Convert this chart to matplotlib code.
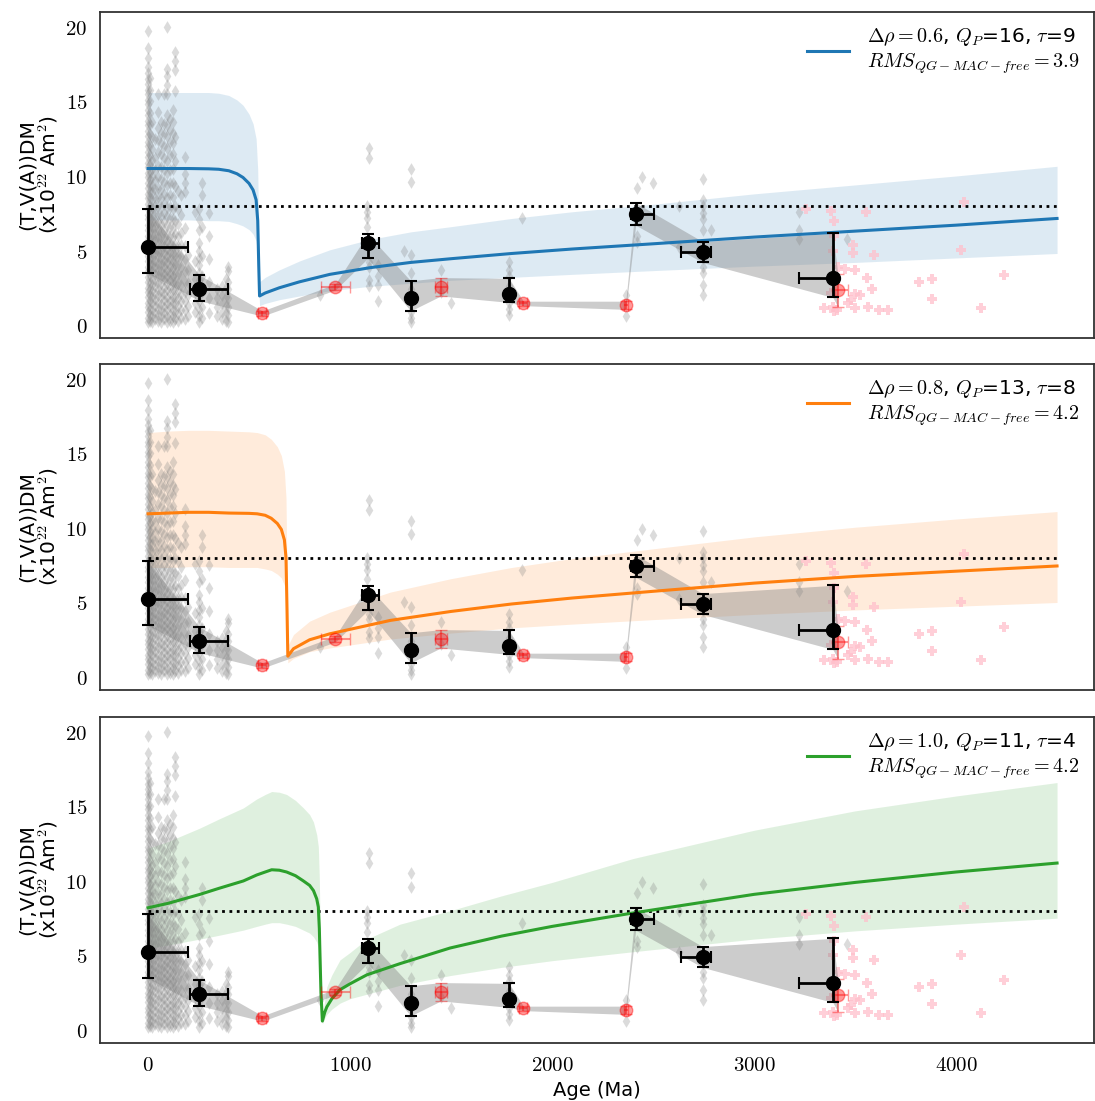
import numpy as np
import matplotlib.pyplot as plt
from matplotlib.ticker import FuncFormatter

plt.rcParams['mathtext.fontset'] = 'cm'
plt.rcParams['font.family'] = ['DejaVu Sans']

# ---- individual intensity estimates (grey diamonds), column by column ----
grey_cols = [
    (0, [0.2, 0.5, 0.9, 1.2, 1.5, 1.9, 2.2, 2.5, 2.9, 3.2, 3.6, 3.9, 4.3, 4.6, 5.0, 5.3, 5.7, 6.0,
         6.4, 6.7, 7.1, 7.4, 7.8, 8.1, 8.5, 8.8, 9.2, 9.5, 9.9, 10.2, 10.6, 10.9, 11.3, 11.6, 12.0,
         12.3, 12.7, 13.0, 13.4, 13.7, 14.1, 14.4, 14.8, 15.1, 15.5, 15.8, 16.2, 16.5, 16.9, 17.3,
         17.9, 18.6, 19.7]),
    (8, [0.3, 0.7, 1.1, 1.6, 2.0, 2.4, 2.8, 3.3, 3.7, 4.1, 4.5, 5.0, 5.4, 5.8, 6.3, 6.7, 7.1, 7.6,
         8.0, 8.5, 8.9, 9.4, 9.8, 10.3, 10.8, 11.4, 12.1, 12.8, 13.5, 14.2, 15.0, 15.8, 16.6]),
    (20, [0.2, 0.6, 1.0, 1.5, 1.9, 2.3, 2.7, 3.1, 3.6, 4.0, 4.4, 4.8, 5.3, 5.7, 6.1, 6.6, 7.0, 7.5,
          7.9, 8.4, 8.9, 9.3, 9.9, 10.5, 11.1, 11.8, 12.6, 13.6]),
    (35, [0.4, 0.8, 1.3, 1.7, 2.1, 2.6, 3.0, 3.4, 3.9, 4.3, 4.8, 5.2, 5.7, 6.1, 6.6, 7.0, 7.5, 8.0,
          8.5, 9.1, 9.7, 10.4, 11.2, 12.5]),
    (50, [0.3, 0.7, 1.1, 1.5, 2.0, 2.4, 2.8, 3.3, 3.7, 4.1, 4.6, 5.0, 5.5, 5.9, 6.4, 6.9, 7.4, 8.0,
          8.6, 9.2, 9.9, 10.7, 11.6, 12.4, 13.2, 14.3, 15.5]),
    (65, [0.2, 0.6, 1.0, 1.4, 1.9, 2.3, 2.8, 3.2, 3.6, 4.1, 4.5, 5.0, 5.4, 5.9, 6.3, 6.8, 7.3, 7.9,
          8.5, 9.1, 9.8, 10.6, 11.5, 12.2, 12.9, 13.6]),
    (80, [0.4, 0.8, 1.2, 1.7, 2.1, 2.5, 3.0, 3.4, 3.9, 4.3, 4.8, 5.3, 5.8, 6.3, 6.9, 7.5, 8.1, 8.8,
          9.6, 10.4, 11.2, 12.0, 12.8, 13.5, 15.5]),
    (95, [0.2, 0.6, 1.1, 1.5, 1.9, 2.4, 2.8, 3.3, 3.7, 4.2, 4.6, 5.1, 5.6, 6.1, 6.7, 7.3, 7.9, 8.6,
          9.4, 10.2, 11.0, 11.9, 12.7, 13.4, 14.1, 15.5, 16.1, 16.7, 17.2, 20.0]),
    (110, [0.3, 0.7, 1.2, 1.6, 2.1, 2.5, 3.0, 3.4, 3.9, 4.4, 4.9, 5.4, 6.0, 6.6, 7.2, 7.9, 8.7, 9.5,
           10.4, 11.4, 12.3, 13.1, 13.8]),
    (125, [0.2, 0.6, 1.0, 1.5, 1.9, 2.4, 2.9, 3.3, 3.8, 4.3, 4.8, 5.3, 5.9, 6.5, 7.1, 7.8, 8.6, 9.5,
           10.5, 11.5, 12.2, 12.9, 13.6, 14.4]),
    (135, [0.4, 0.9, 1.4, 1.9, 2.4, 2.9, 3.5, 4.1, 4.7, 5.4, 6.1, 7.0, 8.0, 9.3, 11.0, 12.6, 15.7,
           17.1, 17.7, 18.3]),
    (150, [0.3, 0.8, 1.3, 1.8, 2.3, 2.8, 3.4, 4.0, 4.6, 5.3, 6.0, 6.8, 7.8, 9.0]),
    (165, [0.5, 1.0, 1.6, 2.1, 2.7, 3.3, 3.9, 4.6, 5.4, 6.2, 7.4, 8.7]),
    (183, [0.4, 1.0, 1.6, 2.2, 2.9, 3.6, 4.4, 5.3, 6.5, 8.9, 9.5, 10.1, 11.3]),
    (200, [0.6, 1.3, 2.0, 2.8, 3.7, 4.7]),
    (230, [0.9, 1.5, 2.2, 3.1, 4.3, 7.6]),
    (254, [0.2, 0.6, 1.1, 1.6, 2.0, 2.5, 3.0, 3.5, 4.0, 4.5, 5.0, 5.5, 6.4, 7.1, 7.8]),
    (268, [0.5, 1.2, 2.2, 3.3, 4.6, 6.6, 8.7, 9.5]),
    (300, [0.8, 1.8, 2.9, 4.4, 6.0, 7.5]),
    (340, [0.6, 1.2, 1.8, 2.4]),
    (365, [0.4, 0.9, 1.5, 2.0, 2.6]),
    (385, [0.3, 0.8, 1.3, 1.9, 2.5, 3.1]),
    (398, [0.2, 0.7, 1.2, 1.8, 2.4, 2.9, 3.6, 3.9]),
    (851, [2.0]),
    (1083, [6.6, 7.2, 7.6, 8.0]),
    (1095, [2.6, 3.0, 3.9, 4.2, 11.2, 11.9]),
    (1140, [1.6, 2.7, 3.3, 4.0]),
    (1267, [5.0]),
    (1300, [0.2, 0.5, 0.9, 1.5, 2.4, 3.5, 4.7, 9.6, 10.5]),
    (1449, [2.2, 3.7]),
    (1498, [1.45]),
    (1787, [0.7, 1.1, 1.5, 2.6, 3.3, 3.7, 4.2]),
    (1850, [7.2]),
    (2365, [0.6, 2.0]),
    (2420, [5.6, 6.0, 9.2]),
    (2447, [9.9]),
    (2500, [9.5]),
    (2630, [5.25, 8.0]),
    (2745, [2.0, 2.7, 3.5, 3.9, 4.5, 6.4, 7.1, 7.5, 8.0, 8.4, 9.8]),
    (2789, [6.4]),
    (3222, [5.8, 6.4, 7.6]),
    (3460, [5.8]),
]

# ---- pink estimates (oldest interval) ----
pink_age = [3256, 3381, 3552, 3398, 4038, 3490, 3490, 3594, 4024, 3398, 3390, 3449, 3502, 3418,
            3560, 3582, 3816, 3883, 4235, 3883, 3502, 3524, 3465, 3482, 3348, 3390, 3412, 3502,
            3565, 3621, 3661, 4123, 3381, 3395]
pink_val = [7.76, 7.67, 7.6, 6.98, 8.28, 5.37, 4.85, 4.7, 5.03, 6.0, 5.0, 3.74, 3.69, 3.87,
            3.13, 2.44, 2.86, 3.06, 3.36, 1.72, 2.08, 2.01, 1.45, 1.68, 1.12, 1.23, 1.0, 1.17,
            1.19, 1.0, 1.0, 1.17, 2.12, 0.95]

# ---- binned means (black) ----
blk_age = [0, 254, 1087, 1300, 1787, 2414, 2745, 3390]
blk_val = [5.25, 2.42, 5.48, 1.83, 2.06, 7.45, 4.88, 3.18]
blk_ylo = [3.47, 1.63, 4.47, 0.95, 1.52, 6.7, 4.2, 1.85]
blk_yhi = [7.76, 3.36, 6.1, 2.97, 3.13, 8.2, 5.6, 6.15]
blk_xlo = [0, 208, 1060, 1290, 1780, 2390, 2640, 3222]
blk_xhi = [196, 398, 1142, 1310, 1795, 2506, 2789, 3395]

# ---- binned means (red) ----
red_age = [566, 927, 1449, 1858, 2365, 3415]
red_val = [0.78, 2.55, 2.57, 1.45, 1.34, 2.35]
red_ylo = [0.6, 2.35, 1.95, 1.3, 1.05, 1.23]
red_yhi = [0.95, 2.75, 3.18, 1.6, 1.6, 3.4]
red_xlo = [546, 854, 1420, 1838, 2355, 3395]
red_xhi = [586, 1000, 1480, 1878, 2375, 3465]

# ---- model curves ----
m1_age = [0, 100, 200, 300, 350, 400, 440, 470, 500, 520, 535, 543, 548, 552, 580, 650, 750,
          900, 1100, 1300, 1500, 1800, 2100, 2500, 3000, 3500, 4000, 4500]
m1_val = [10.5, 10.5, 10.5, 10.48, 10.45, 10.35, 10.15, 9.9, 9.5, 9.06, 8.4, 7.0, 4.0, 1.95,
          2.15, 2.5, 2.9, 3.4, 3.85, 4.2, 4.45, 4.8, 5.1, 5.45, 5.9, 6.3, 6.7, 7.15]
m1_lo = [7.05, 7.05, 7.05, 7.0, 7.0, 6.95, 6.8, 6.65, 6.4, 6.1, 5.65, 4.7, 2.7, 1.3,
         1.45, 1.7, 1.95, 2.3, 2.6, 2.8, 3.0, 3.2, 3.4, 3.65, 3.95, 4.2, 4.5, 4.8]
m1_hi = [15.6, 15.6, 15.6, 15.6, 15.55, 15.4, 15.1, 14.75, 14.15, 13.5, 12.5, 10.4, 6.0, 2.9,
         3.2, 3.7, 4.3, 5.05, 5.75, 6.25, 6.6, 7.15, 7.6, 8.1, 8.8, 9.4, 10.0, 10.65]

m2_age = [0, 100, 200, 300, 400, 500, 540, 580, 610, 640, 660, 675, 683, 688, 692, 720, 800,
          900, 1000, 1200, 1500, 1800, 2100, 2500, 3000, 3500, 4000, 4500]
m2_val = [10.95, 11.0, 11.05, 11.05, 11.0, 10.98, 10.95, 10.85, 10.65, 10.3, 9.9, 9.2, 8.0, 4.5,
          1.4, 1.9, 2.5, 2.9, 3.2, 3.8, 4.4, 4.9, 5.3, 5.75, 6.3, 6.75, 7.1, 7.45]
m2_lo = [7.35, 7.35, 7.4, 7.4, 7.35, 7.35, 7.35, 7.25, 7.15, 6.9, 6.65, 6.15, 5.35, 3.0,
         0.95, 1.25, 1.7, 1.95, 2.15, 2.55, 2.95, 3.3, 3.55, 3.85, 4.2, 4.5, 4.75, 5.0]
m2_hi = [16.4, 16.5, 16.55, 16.55, 16.5, 16.45, 16.4, 16.25, 15.95, 15.45, 14.85, 13.8, 12.0, 6.75,
         2.1, 2.85, 3.75, 4.35, 4.8, 5.7, 6.6, 7.35, 7.95, 8.6, 9.4, 10.05, 10.6, 11.1]

m3_age = [0, 100, 257, 350, 472, 538, 580, 612, 650, 686, 730, 769, 800, 819, 835, 843, 848,
          851, 856, 863, 875, 885, 910, 950, 1000, 1083, 1247, 1495, 1750, 2000, 2400, 3000,
          3500, 4000, 4500]
m3_val = [8.2, 8.5, 9.1, 9.5, 10.0, 10.4, 10.6, 10.75, 10.72, 10.6, 10.35, 10.0, 9.7, 9.35, 8.8,
          8.25, 6.8, 5.1, 2.5, 0.6, 1.2, 1.55, 2.1, 2.7, 3.1, 3.7, 4.45, 5.5, 6.3, 6.95, 7.85,
          9.1, 9.9, 10.6, 11.2]
m3_lo = [5.5, 5.7, 6.1, 6.35, 6.7, 6.95, 7.1, 7.2, 7.2, 7.1, 6.95, 6.7, 6.5, 6.25, 5.9, 5.55,
         4.55, 3.4, 1.7, 0.4, 0.8, 1.05, 1.4, 1.8, 2.1, 2.4, 3.0, 3.65, 4.2, 4.65, 5.25, 6.1,
         6.65, 7.1, 7.5]
m3_hi = [12.2, 12.65, 13.55, 14.15, 14.9, 15.5, 15.8, 16.0, 15.95, 15.8, 15.4, 14.9, 14.45,
         13.95, 13.1, 12.3, 10.15, 7.6, 3.7, 0.9, 2.0, 2.9, 3.7, 4.7, 5.2, 6.1, 7.1, 8.0, 9.0,
         9.9, 11.5, 13.4, 14.7, 15.7, 16.6]

models = [
    (m1_age, m1_val, m1_lo, m1_hi, 'C0', '0.6', '16', '9', '3.9'),
    (m2_age, m2_val, m2_lo, m2_hi, 'C1', '0.8', '13', '8', '4.2'),
    (m3_age, m3_val, m3_lo, m3_hi, 'C2', '1.0', '11', '4', '4.2'),
]

grey_age = [a for a, vals in grey_cols for _ in vals]
grey_val = [v for _, vals in grey_cols for v in vals]

# grey envelope through all binned means, ordered by age
band = sorted(zip(blk_age + red_age, blk_ylo + red_ylo, blk_yhi + red_yhi))
band_age = [b[0] for b in band]
band_lo = [b[1] for b in band]
band_hi = [b[2] for b in band]

fig = plt.figure(figsize=(10.95, 11.01), dpi=100)
bottoms = [0.693, 0.3733, 0.0527]
fmt = FuncFormatter(lambda v, p: '$%g$' % v)

for i, (age, val, lo, hi, col, drho, qp, tau, rms) in enumerate(models):
    ax = fig.add_axes([0.0913, bottoms[i], 0.9078, 0.2961])
    ax.fill_between(age, lo, hi, color=col, alpha=0.15, lw=0, zorder=1)
    ax.scatter(grey_age, grey_val, marker='d', s=42, color='grey', alpha=0.28,
               linewidths=0, zorder=2)
    ax.scatter(pink_age, pink_val, marker='P', s=45, color='pink', alpha=0.75,
               linewidths=0, zorder=2)
    ax.hlines(8, 0, 4500, colors='k', linestyles=':', lw=2, zorder=3)
    ax.fill_between(band_age, band_lo, band_hi, color='grey', alpha=0.4, lw=0, zorder=3)
    label = (r'$\Delta\rho=%s$, $Q_P$=%s, $\tau$=%s' % (drho, qp, tau) + '\n'
             + r'$RMS_{QG-MAC-free}=%s$' % rms)
    ax.plot(age, val, color=col, lw=2.2, zorder=4, label=label)
    ax.errorbar(red_age, red_val,
                xerr=[np.subtract(red_age, red_xlo), np.subtract(red_xhi, red_age)],
                yerr=[np.subtract(red_val, red_ylo), np.subtract(red_yhi, red_val)],
                fmt='o', color='red', alpha=0.4, ms=9, elinewidth=1.5, capsize=4, zorder=5)
    ax.errorbar(blk_age, blk_val,
                xerr=[np.subtract(blk_age, blk_xlo), np.subtract(blk_xhi, blk_age)],
                yerr=[np.subtract(blk_val, blk_ylo), np.subtract(blk_yhi, blk_val)],
                fmt='o', color='k', ms=10, elinewidth=2, capsize=4, capthick=1.5, zorder=6)

    ax.set_xlim(-238, 4683)
    ax.set_ylim(-0.87, 21.0)
    ax.set_yticks([0, 5, 10, 15, 20])
    ax.set_xticks([0, 1000, 2000, 3000, 4000])
    ax.yaxis.set_major_formatter(fmt)
    ax.xaxis.set_major_formatter(fmt)
    ax.tick_params(length=0, pad=9, labelsize=15)
    for s in ax.spines.values():
        s.set_color('#333333')
        s.set_linewidth(1.3)
    ax.set_ylabel('(T,V(A))DM\n(x10$^{22}$ Am$^2$)', fontsize=14.5, linespacing=1.0)
    ax.yaxis.set_label_coords(-0.04, 0.5)
    ax.legend(loc='upper right', frameon=False, fontsize=14.5, handlelength=2.1,
              handletextpad=0.9, borderaxespad=0.3)
    if i < 2:
        ax.set_xticklabels([])
    else:
        ax.set_xlabel('Age (Ma)', fontsize=14, labelpad=4)

fig.savefig('out.png', dpi=100)
